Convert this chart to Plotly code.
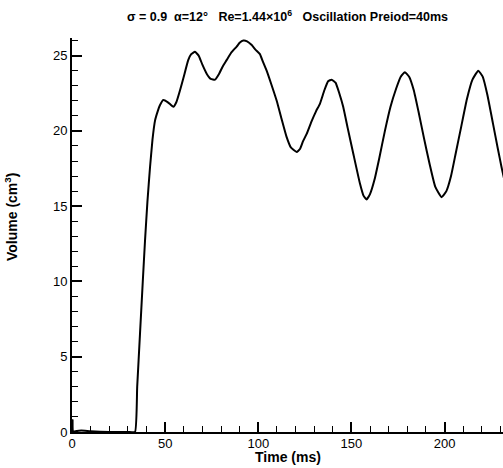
import plotly.graph_objects as go

# Time (ms) and volume (cm^3)
time_ms = [0, 0.3, 0.6, 5, 10, 20, 30, 33.8, 35, 36.5, 38, 39.2, 40.5, 41.9, 43.2,
           44.6, 46, 47.2, 49, 51.5, 54.4, 56, 58, 60, 62.4, 64, 66, 68, 70, 72.3,
           74.5, 76.8, 79, 81, 83, 85.5, 88.4, 90, 92, 94, 96.5, 98.5, 100.9, 102.5,
           104.5, 107, 109.9, 112.5, 115.2, 117.5, 120.6, 122.4, 124, 126, 128.5,
           131, 133.1, 135.5, 137.5, 139.4, 141.5, 143.5, 145.6, 148, 151, 154.6,
           156.5, 158.2, 160, 162.5, 165, 168, 171, 174, 176.5, 178.7, 181, 183.5,
           186, 189, 192, 195, 198.4, 201, 203.5, 206, 209, 212, 215, 218.1, 220.5,
           223, 226, 228.5, 230.6, 232]
volume = [0, 0.8, 0.05, 0.1, 0.05, 0, 0, 0, 3.0, 6.5, 10.0, 12.7, 15.3, 17.6, 19.4,
          20.7, 21.3, 21.7, 22.05, 21.9, 21.6, 21.9, 22.7, 23.6, 24.7, 25.1, 25.25,
          25.0, 24.4, 23.8, 23.45, 23.4, 23.8, 24.3, 24.7, 25.2, 25.6, 25.85, 26.0,
          25.95, 25.7, 25.4, 25.1, 24.6, 24.0, 23.1, 22.0, 20.8, 19.6, 18.9, 18.6,
          18.8, 19.3, 19.8, 20.6, 21.3, 21.8, 22.7, 23.3, 23.4, 23.2, 22.5, 21.6,
          20.2, 18.5, 16.5, 15.7, 15.45, 15.8, 16.8, 18.2, 20.0, 21.6, 22.8, 23.6,
          23.9, 23.6, 22.7, 21.3, 19.5, 17.8, 16.3, 15.6, 16.0, 17.0, 18.5, 20.3,
          22.1, 23.4, 24.0, 23.6, 22.4, 20.5, 18.9, 17.6, 16.8]

fig = go.Figure()
fig.add_trace(go.Scatter(x=time_ms, y=volume, mode="lines",
                         line=dict(color="black", width=2, shape="spline", smoothing=0.4),
                         showlegend=False))

font = "Arial, Liberation Sans"
axis_font = dict(family=font, size=13, color="black")

fig.update_layout(
    width=503, height=468,
    margin=dict(l=72, r=0, t=38, b=36),
    paper_bgcolor="white", plot_bgcolor="white",
    title=dict(text="<b>σ = 0.9  α=12°   Re=1.44×10<sup>6</sup>   Oscillation Preiod=40ms</b>",
               x=0.5, xref="paper", xanchor="center", y=1 - 17 / 468, yanchor="middle",
               font=dict(family=font, size=12.5, color="black")),
    xaxis=dict(range=[0, 231.4], dtick=50, tick0=0, ticks="inside", ticklen=10, tickwidth=1.5,
               tickcolor="black", showline=True, linecolor="black", linewidth=2,
               showgrid=False, zeroline=False, tickfont=axis_font, ticklabelstandoff=-2,
               minor=dict(dtick=10, ticks="inside", ticklen=6, tickwidth=1.2, tickcolor="black")),
    yaxis=dict(range=[0, 26.17], dtick=5, tick0=0, ticks="inside", ticklen=10, tickwidth=1.5,
               tickcolor="black", showline=True, linecolor="black", linewidth=2,
               showgrid=False, zeroline=False, tickfont=axis_font,
               minor=dict(dtick=1, ticks="inside", ticklen=6, tickwidth=1.2, tickcolor="black")),
    annotations=[
        dict(text="<b>Volume (cm<sup>3</sup>)</b>", textangle=-90,
             xref="paper", x=-0.1415, yref="paper", y=0.5457,
             xanchor="center", yanchor="middle", showarrow=False,
             font=dict(family=font, size=14, color="black")),
        dict(text="<b>Time (ms)</b>", xref="paper", x=0.5, yref="paper", y=-0.063,
             xanchor="center", yanchor="middle", showarrow=False,
             font=dict(family=font, size=14, color="black")),
    ],
)

fig.write_html("out.html", config={"displayModeBar": False},
               post_script="document.body.style.margin='0';")
